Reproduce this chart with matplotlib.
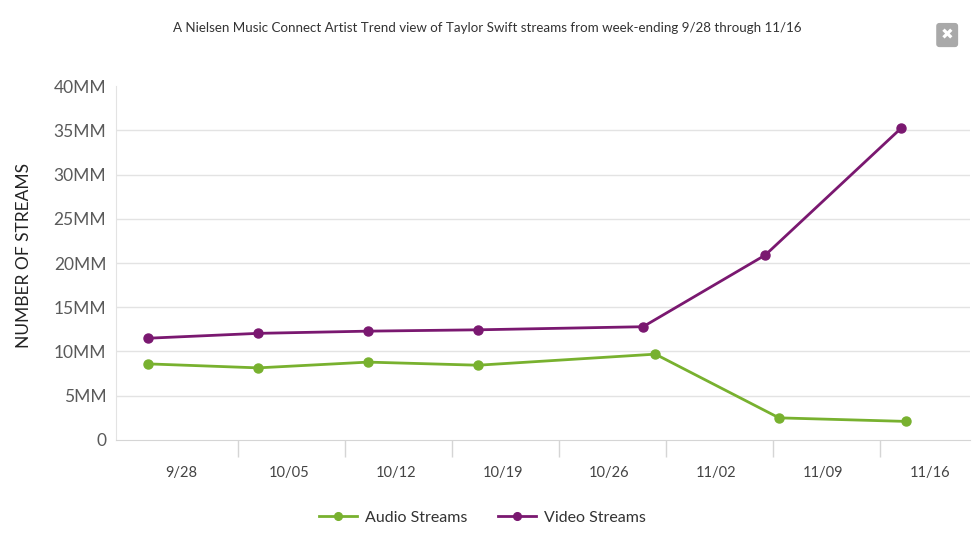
import numpy as np
import matplotlib.pyplot as plt

# x values are days after week-ending 9/28 (points sit off the labels in the original)
week_labels = ["9/28", "10/05", "10/12", "10/19", "10/26", "11/02", "11/09", "11/16"]
audio_days = [-2.2, 5.0, 12.2, 19.4, 31.0, 39.1, 47.4]
audio_mm = [8.6, 8.15, 8.8, 8.45, 9.7, 2.5, 2.1]
video_days = [-2.2, 5.0, 12.2, 19.4, 30.2, 38.2, 47.1]
video_mm = [11.5, 12.05, 12.3, 12.45, 12.8, 20.9, 35.25]

GREEN = "#78b12f"
PURPLE = "#7a1870"
FONT = "Lato"

plt.rcParams["font.family"] = [FONT, "DejaVu Sans"]

fig = plt.figure(figsize=(9.8, 5.39), dpi=100)
ax = fig.add_axes([0.1184, 0.1837, 0.8714, 0.6567])

ax.plot(audio_days, audio_mm, color=GREEN, lw=2.0, marker="o", ms=6.5,
        label="Audio Streams", zorder=3, clip_on=False)
ax.plot(video_days, video_mm, color=PURPLE, lw=2.0, marker="o", ms=6.5,
        label="Video Streams", zorder=3, clip_on=False)

ax.set_xlim(-4.3, 51.6)
ax.set_ylim(0, 40)

ax.set_yticks(np.arange(0, 41, 5))
ax.set_yticklabels(["0"] + [f"{v}MM" for v in range(5, 41, 5)])
ax.yaxis.grid(True, color="#e3e3e3", lw=1)
ax.yaxis.get_gridlines()[-1].set_visible(False)
ax.yaxis.get_gridlines()[0].set_visible(False)
ax.set_axisbelow(True)
ax.tick_params(axis="y", length=0, pad=7, labelsize=12.5, labelcolor="#5a5a5a")

ax.set_xticks(np.arange(0, 50, 7))
ax.set_xticklabels(week_labels)
ax.set_xticks(np.arange(3.7, 46, 7), minor=True)
ax.tick_params(axis="x", which="major", length=0, pad=19, labelsize=10.5,
               labelcolor="#444444")
ax.tick_params(axis="x", which="minor", length=12, width=1, color="#d5d5d5",
               direction="out")

for side in ["top", "right"]:
    ax.spines[side].set_visible(False)
ax.spines["left"].set_color("#e3e3e3")
ax.spines["bottom"].set_color("#d5d5d5")

ax.set_ylabel("NUMBER OF STREAMS", fontsize=12.5, color="#222222")
ax.yaxis.set_label_coords(-0.098, 0.52)

fig.text(0.497, 0.948, "A Nielsen Music Connect Artist Trend view of Taylor Swift streams "
         "from week-ending 9/28 through 11/16", ha="center", va="center",
         fontsize=9.6, color="#333333")

fig.text(0.9665, 0.935, "\u2716", ha="center", va="center", fontsize=11, color="white",
         bbox=dict(boxstyle="round,pad=0.3,rounding_size=0.2", fc="#a9a9a9", ec="none"),
         family="DejaVu Sans")

leg = fig.legend(loc="center", bbox_to_anchor=(0.492, 0.04), ncol=2, frameon=False,
                 fontsize=11.5, handlelength=2.4, columnspacing=1.9, handletextpad=0.5,
                 markerscale=0.85)
for t in leg.get_texts():
    t.set_color("#333333")

fig.savefig("out.png", dpi=100, facecolor="white")
